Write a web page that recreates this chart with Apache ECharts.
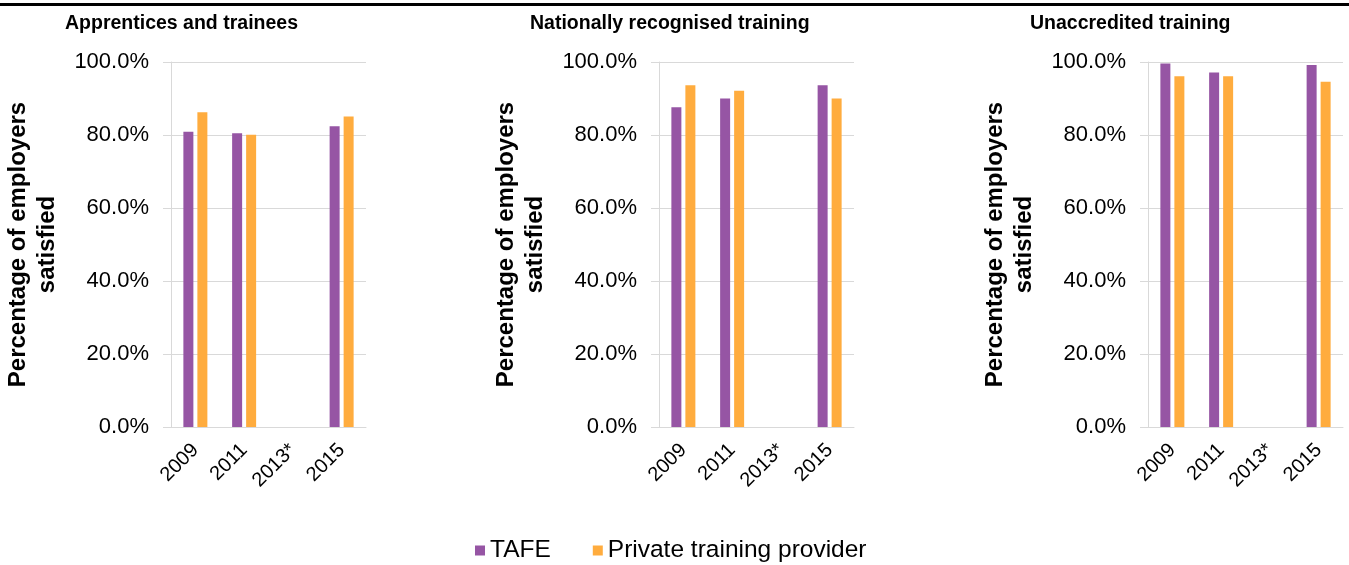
<!DOCTYPE html>
<html>
<head>
<meta charset="utf-8">
<script src="https://cdn.jsdelivr.net/npm/echarts@6/dist/echarts.min.js"></script>
<style>
  html, body { margin: 0; padding: 0; background: #fff; }
  #chart { width: 1349px; height: 565px; }
</style>
</head>
<body>
<div id="chart"></div>
<script>
var years = ["2009", "2011", "2013*", "2015"];
var panelTitles = ["Apprentices and trainees", "Nationally recognised training", "Unaccredited training"];
var seriesNames = ["TAFE", "Private training provider"];
// values in percent, 2013* not surveyed
var tafe = [
  [80.9, 80.5, null, 82.4],
  [87.6, 90.0, null, 93.6],
  [99.6, 97.1, null, 99.2]
];
var privateProvider = [
  [86.2, 80.1, null, 85.1],
  [93.6, 92.1, null, 90.0],
  [96.1, 96.1, null, 94.6]
];
var yTicks = [0, 20, 40, 60, 80, 100];

var colors = ["#9655A4", "#FFAC3E"];
var font = "Liberation Sans, Arial, sans-serif";
var gridLefts = [171, 659, 1148];
var titleLefts = [60, 525, 1025];

var myChart = echarts.init(document.getElementById("chart"));

var grids = [], xAxes = [], yAxes = [], series = [], titles = [];
for (var i = 0; i < 3; i++) {
  titles.push({
    text: panelTitles[i],
    left: titleLefts[i],
    top: 9,
    textStyle: { fontFamily: font, fontSize: 19.5, fontWeight: "bold", color: "#000" }
  });
  grids.push({ left: gridLefts[i], top: 62, width: 195, height: 365 });
  xAxes.push({
    type: "category",
    gridIndex: i,
    data: years,
    axisLine: { show: true, lineStyle: { color: "#d9d9d9", width: 1 } },
    axisTick: { show: false },
    axisLabel: { rotate: 45, margin: 20, fontFamily: font, fontSize: 20, color: "#000" }
  });
  yAxes.push({
    type: "value",
    gridIndex: i,
    min: yTicks[0],
    max: yTicks[yTicks.length - 1],
    interval: yTicks[1] - yTicks[0],
    name: "Percentage of employers\nsatisfied",
    nameLocation: "middle",
    nameGap: 109,
    nameTextStyle: { fontFamily: font, fontSize: 24, fontWeight: "bold", color: "#000", lineHeight: 29 },
    axisLine: { show: true, lineStyle: { color: "#d9d9d9", width: 1 } },
    axisTick: { show: true, length: 8, lineStyle: { color: "#d9d9d9" } },
    splitLine: { show: true, lineStyle: { color: "#d9d9d9", width: 1 } },
    axisLabel: {
      margin: 22,
      fontFamily: font,
      fontSize: 22,
      color: "#000",
      formatter: function (v) { return v.toFixed(1) + "%"; }
    }
  });
  series.push({
    name: seriesNames[0],
    type: "bar",
    xAxisIndex: i,
    yAxisIndex: i,
    data: tafe[i],
    barWidth: 10,
    barGap: "40%",
    itemStyle: { color: colors[0] }
  });
  series.push({
    name: seriesNames[1],
    type: "bar",
    xAxisIndex: i,
    yAxisIndex: i,
    data: privateProvider[i],
    barWidth: 10,
    barGap: "40%",
    itemStyle: { color: colors[1] }
  });
}

myChart.setOption({
  animation: false,
  color: colors,
  title: titles,
  legend: {
    data: seriesNames,
    left: 470,
    top: 533,
    icon: "rect",
    itemWidth: 10,
    itemHeight: 10,
    itemGap: 42,
    textStyle: { fontFamily: font, fontSize: 24.5, color: "#000" }
  },
  grid: grids,
  xAxis: xAxes,
  yAxis: yAxes,
  series: series,
  graphic: [{
    type: "rect",
    left: 0,
    top: 3,
    shape: { width: 1349, height: 3 },
    style: { fill: "#000" }
  }]
});
</script>
</body>
</html>
